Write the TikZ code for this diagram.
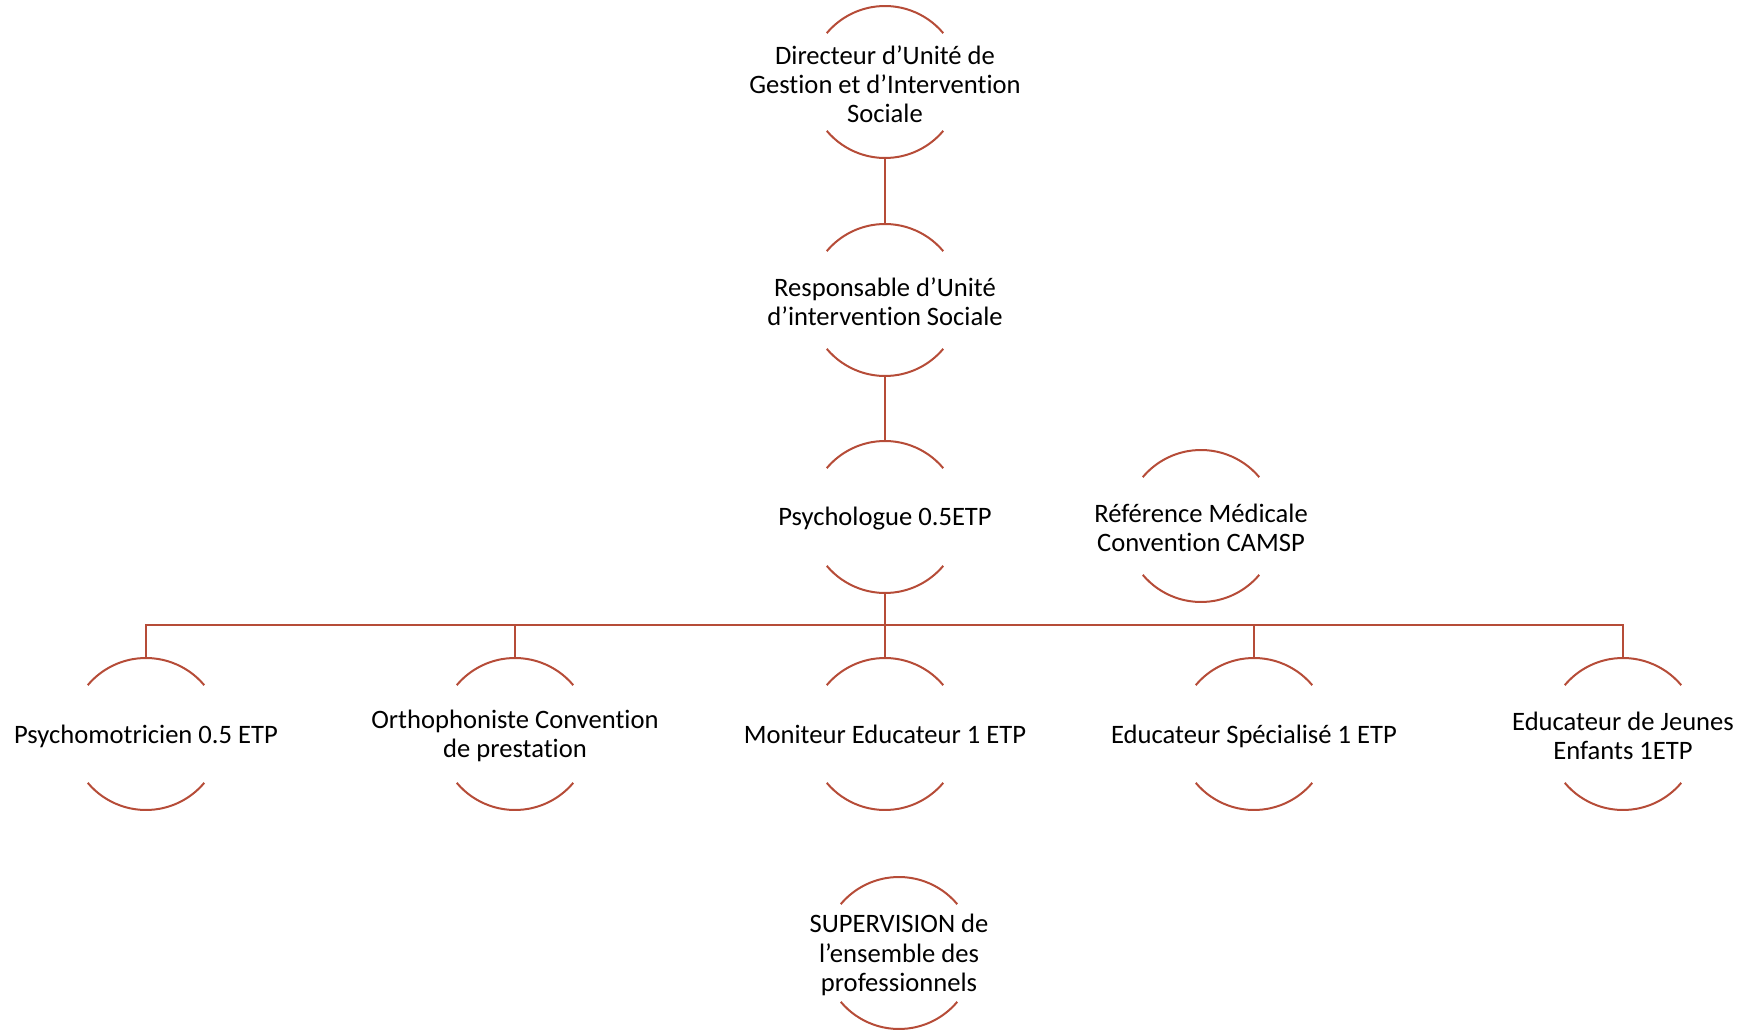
\documentclass[tikz,border=0pt]{standalone}
\usepackage{fontspec}
\setmainfont[Ligatures=NoCommon]{Carlito}
\usepackage{tikz}
\definecolor{chartred}{RGB}{182,76,56}
\newcommand{\unitradius}{38pt}
\tikzset{
    unit/.style={circle, minimum size=2*\unitradius, inner sep=0pt, outer sep=0pt},
    txt/.style={align=center, inner sep=0pt, yshift=-1pt, font=\fontsize{13.3}{14.6}\selectfont},
    arcline/.style={chartred, line width=1pt},
    link/.style={chartred, line width=1pt}
}

\begin{document}
\begin{tikzpicture}[x=0.5pt, y=0.5pt]
    \useasboundingbox (0,0) rectangle (1758,1030);

    % top of the chart
    \node[unit] (dir) at (885,948) {};
    \node[txt] (dir-t) at (dir) {Directeur d’Unité de\\Gestion et d’Intervention\\Sociale};
    \node[unit] (resp) at (885,730) {};
    \node[txt] (resp-t) at (resp) {Responsable d’Unité\\d’intervention Sociale};
    \node[unit] (psy) at (885,513) {};
    \node[txt] (psy-t) at (psy) {Psychologue 0.5ETP};
    \node[unit] (ref) at (1201,504) {};
    \node[txt] (ref-t) at (ref) {Référence Médicale\\Convention CAMSP};

    % staff row
    \node[unit] (psm) at (146,296) {};
    \node[txt] (psm-t) at (psm) {Psychomotricien 0.5 ETP};
    \node[unit] (orth) at (515,296) {};
    \node[txt] (orth-t) at (orth) {Orthophoniste Convention\\de prestation};
    \node[unit] (mon) at (885,296) {};
    \node[txt] (mon-t) at ([yshift=1pt]mon) {Moniteur Educateur 1 ETP};
    \node[unit] (eds) at (1254,296) {};
    \node[txt] (eds-t) at (eds) {Educateur Spécialisé 1 ETP};
    \node[unit] (eje) at (1623,296) {};
    \node[txt] (eje-t) at (eje) {Educateur de Jeunes\\Enfants 1ETP};

    \node[unit] (sup) at (899,77) {};
    \node[txt] (sup-t) at (sup) {SUPERVISION de\\l’ensemble des\\professionnels};

    % open circles
    \foreach \u in {dir,resp,psy,ref,psm,orth,mon,eds,eje,sup}{
        \draw[arcline] (\u.40) arc[start angle=40, end angle=140, radius=\unitradius];
        \draw[arcline] (\u.220) arc[start angle=220, end angle=320, radius=\unitradius];
    }

    \draw[link] (dir.south) -- (resp.north);
    \draw[link] (resp.south) -- (psy.north);
    \coordinate (bar) at (885,405);
    \foreach \u in {psm,orth,mon,eds,eje}
        \draw[link] (psy.south) -- (psy |- bar) -| (\u.north);
\end{tikzpicture}
\end{document}
